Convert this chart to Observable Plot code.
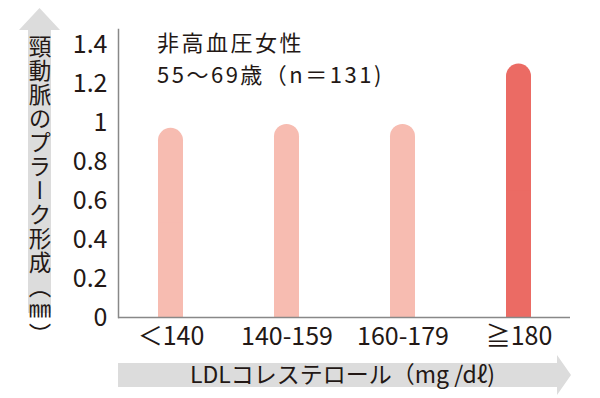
<!DOCTYPE html>
<html><head><meta charset="utf-8">
<script src="https://cdn.jsdelivr.net/npm/d3@7"></script>
<script src="https://cdn.jsdelivr.net/npm/@observablehq/plot@0.6"></script>
<style>
html,body{margin:0;padding:0;background:#fff;}
#wrap{position:relative;width:600px;height:398px;font-family:"Noto Sans CJK JP","Noto Sans",sans-serif;}
#overlay{position:absolute;left:0;top:0;pointer-events:none;}
</style>
</head><body>
<div id="wrap"><div id="chart"></div></div>
<script>
const categories = ["＜140", "140-159", "160-179", "≧180"];
const values = [0.97, 0.99, 0.99, 1.30];
const colors = ["#f7bcb1", "#f7bcb1", "#f7bcb1", "#eb6b64"];
const yTicks = [0, 0.2, 0.4, 0.6, 0.8, 1, 1.2, 1.4];
const titleLines = ["非高血圧女性", "55～69歳（n＝131)"];
const yLabel = "頸動脈のプラーク形成（㎜）";
const xLabel = "LDLコレステロール（mg /dℓ)";

const data = categories.map((c, i) => ({cat: c, value: values[i], color: colors[i]}));
const ink = "#231815";

const chart = Plot.plot({
  width: 600,
  height: 398,
  marginLeft: 118,
  marginRight: 30,
  marginTop: 29,
  marginBottom: 81,
  style: {fontFamily: '"Noto Sans CJK JP","Noto Sans",sans-serif', fontSize: "25px", color: ink, background: "transparent"},
  x: {domain: categories, range: [111.25, 577.25], paddingInner: 0.785, paddingOuter: 0.3925, label: null, tickSize: 0, tickPadding: 10},
  y: {domain: [0, 1.477], ticks: yTicks, tickFormat: d => String(d), label: null, tickSize: 0, tickPadding: 11},
  marks: [
    Plot.barY(data, {x: "cat", y: "value", fill: "color", rx: 12.5}),
    Plot.barY(data, {x: "cat", y1: 0, y2: d => d.value / 2, fill: "color"}),
    Plot.ruleY([0], {stroke: "#888", strokeWidth: 1.5}),
    Plot.frame({anchor: "left", stroke: "#888", strokeWidth: 1.5})
  ]
});
document.getElementById("chart").appendChild(chart);

// overlay decorations: arrows with axis labels and title
const svg = d3.select("#wrap").append("svg")
  .attr("id", "overlay").attr("width", 600).attr("height", 398)
  .attr("font-family", '"Noto Sans CJK JP","Noto Sans",sans-serif');

// vertical arrow
svg.append("path")
  .attr("d", "M28,313 L28,30 L19,30 L39.5,8 L60,30 L51,30 L51,313 Z")
  .attr("fill", "#dcdcdc");
svg.append("text")
  .attr("x", 40).attr("y", 35)
  .attr("fill", ink)
  .attr("font-size", 22.5)
  .style("writing-mode", "vertical-rl")
  .style("letter-spacing", "1.5px")
  .text(yLabel);

// horizontal arrow
svg.append("path")
  .attr("d", "M118,363 L557,363 L557,355 L571,375 L557,395 L557,387 L118,387 Z")
  .attr("fill", "#dcdcdc");
svg.append("text")
  .attr("x", 190).attr("y", 383)
  .attr("fill", ink)
  .attr("font-size", 23)
  .text(xLabel);

// title
svg.selectAll("text.title").data(titleLines).join("text")
  .attr("class", "title")
  .attr("x", 157).attr("y", (d, i) => 51 + i * 32)
  .attr("fill", ink)
  .attr("font-size", 22)
  .style("letter-spacing", "2.5px")
  .text(d => d);
</script>
</body></html>
